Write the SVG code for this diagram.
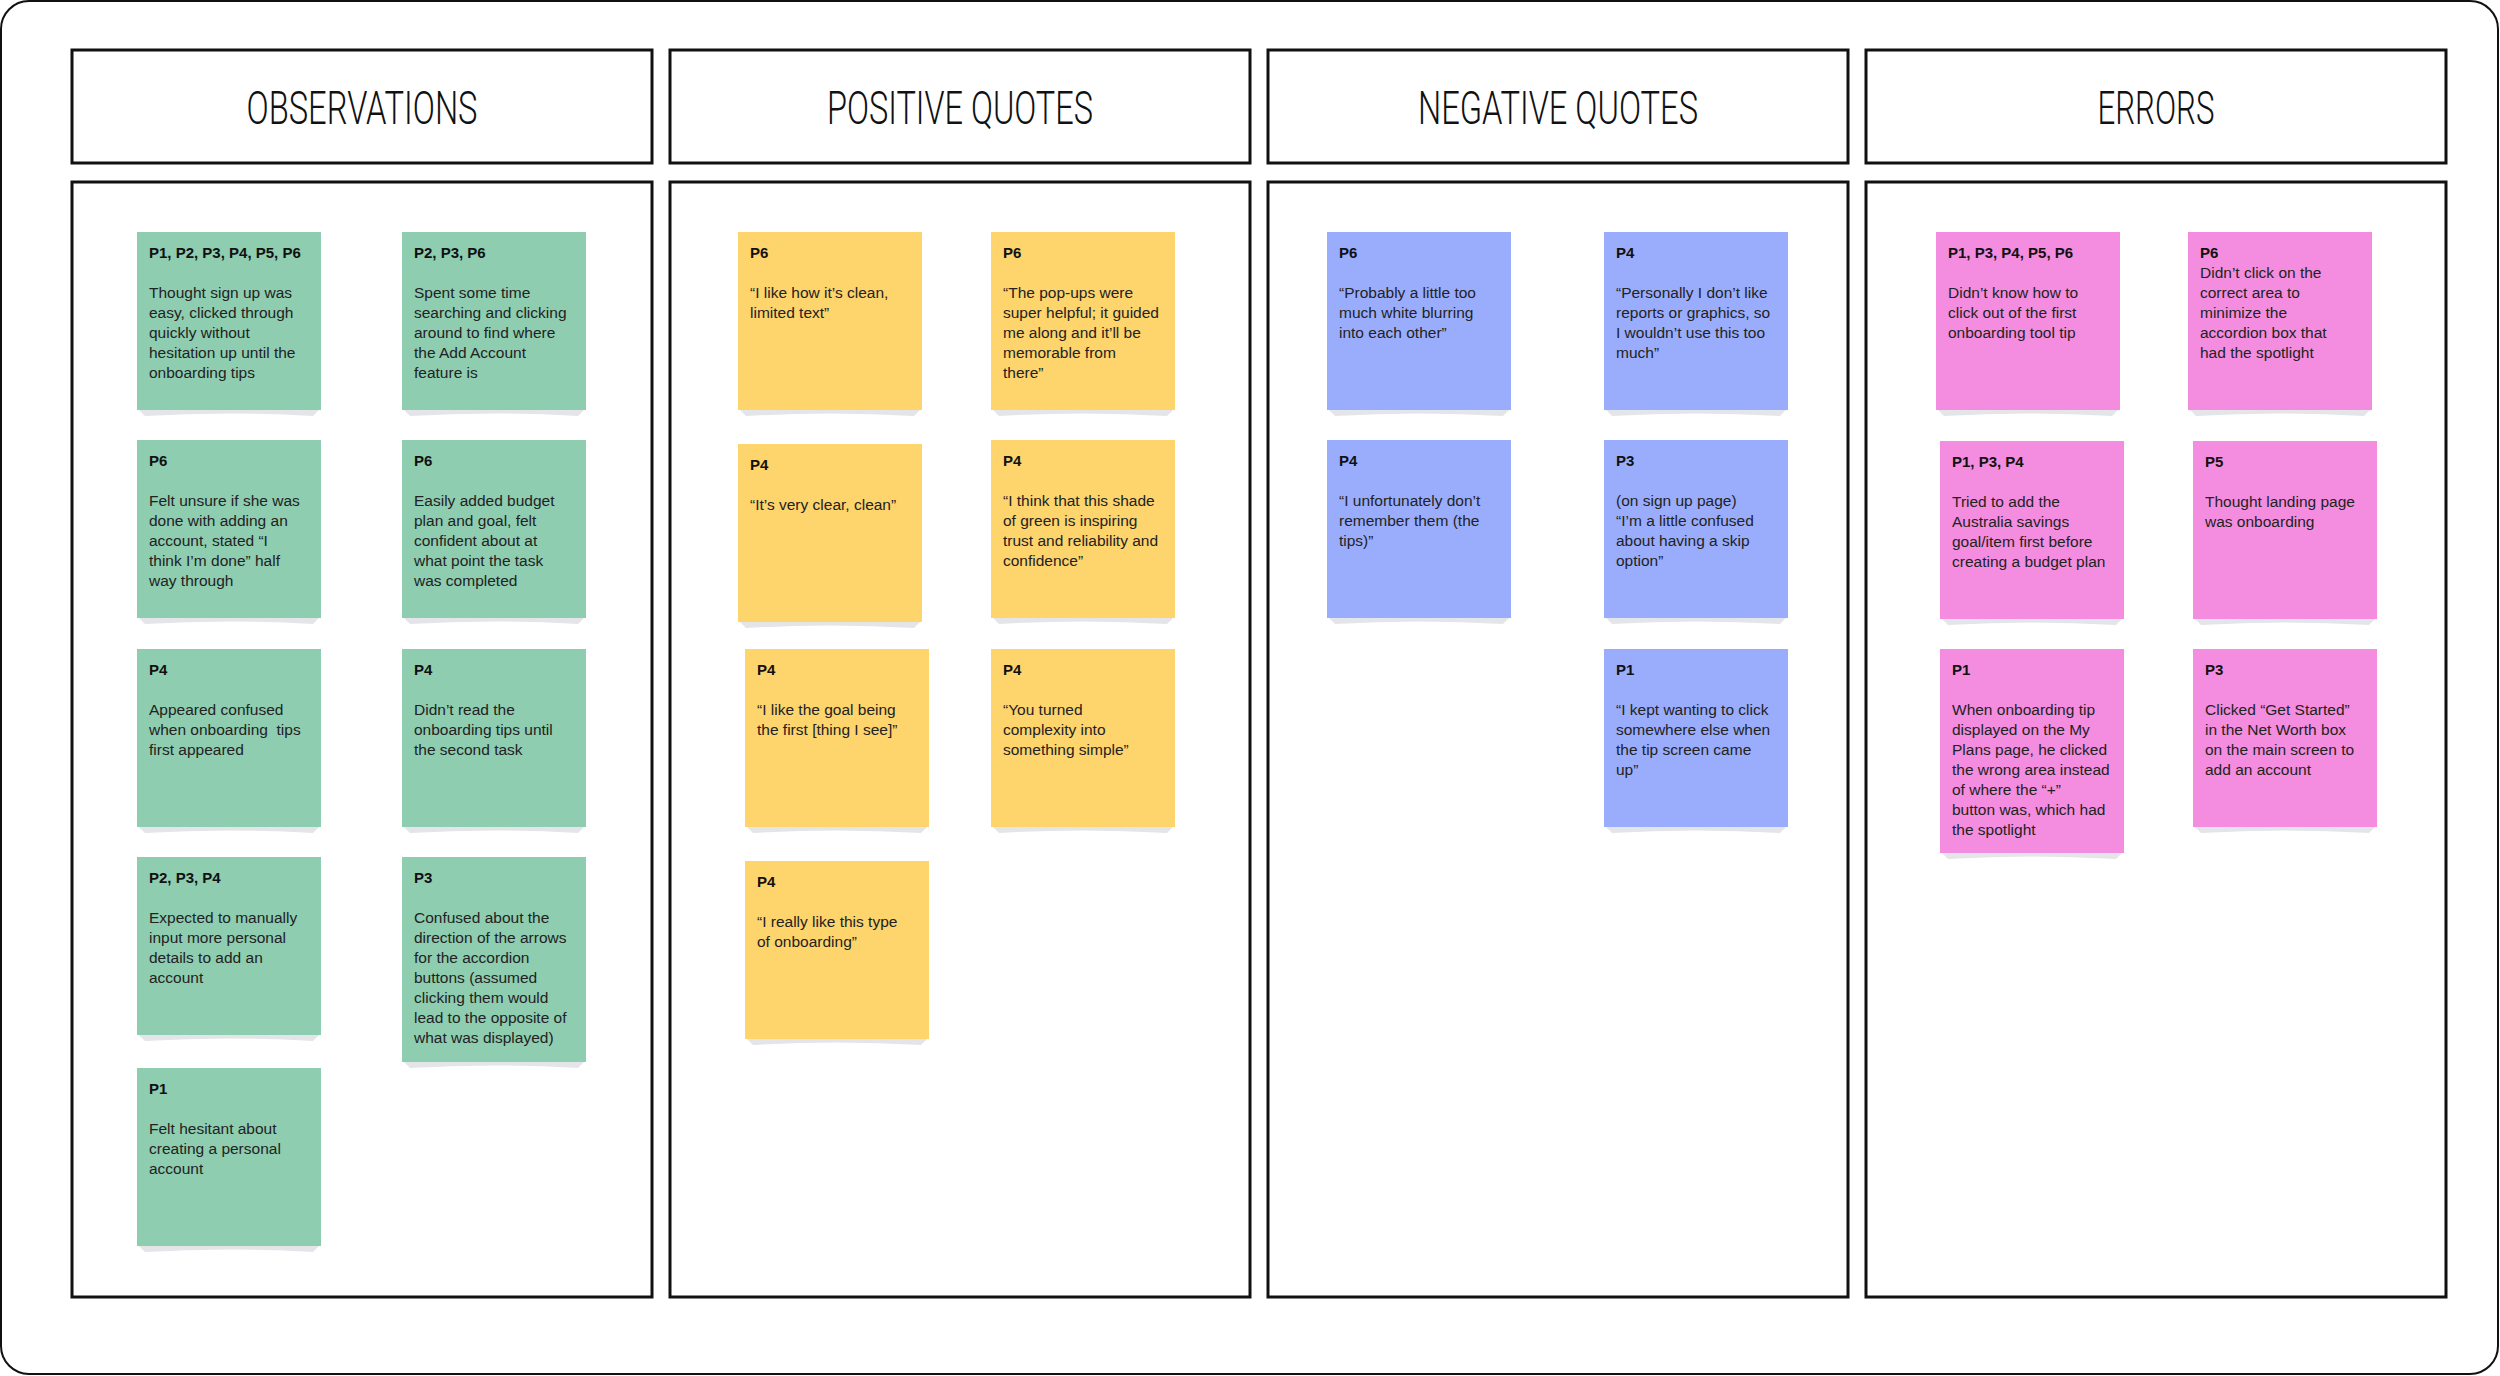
<svg xmlns="http://www.w3.org/2000/svg" width="2500" height="1376" viewBox="0 0 2500 1376">
<style>
.frame{fill:#fff;stroke:#111;stroke-width:2}
.box{fill:#fff;stroke:#111;stroke-width:3}
.hd{font-family:Roboto,"Liberation Sans",sans-serif;font-size:46px;font-weight:300;fill:#111;text-anchor:middle}
.g{fill:#8ecdb0}
.y{fill:#fed46c}
.b{fill:#9aadfd}
.p{fill:#f48ddf}
.sh{fill:#e4e5e8}
.t{font-family:"Liberation Sans",Arial,sans-serif;font-size:15px;font-weight:bold;fill:#111}
.x{font-family:"Liberation Sans",Arial,sans-serif;font-size:15.5px;fill:#222}
</style>
<rect class="frame" x="1" y="1" width="2497" height="1373" rx="28"/>
<g id="headers">
<g id="h-observations"><rect class="box" x="72" y="50" width="580" height="113"/><text class="hd" x="362" y="124" textLength="231" lengthAdjust="spacingAndGlyphs">OBSERVATIONS</text></g>
<g id="h-positive"><rect class="box" x="670" y="50" width="580" height="113"/><text class="hd" x="960" y="124" textLength="266" lengthAdjust="spacingAndGlyphs">POSITIVE QUOTES</text></g>
<g id="h-negative"><rect class="box" x="1268" y="50" width="580" height="113"/><text class="hd" x="1558" y="124" textLength="280" lengthAdjust="spacingAndGlyphs">NEGATIVE QUOTES</text></g>
<g id="h-errors"><rect class="box" x="1866" y="50" width="580" height="113"/><text class="hd" x="2156" y="124" textLength="117" lengthAdjust="spacingAndGlyphs">ERRORS</text></g>
</g>
<g id="columns">
<rect id="col-observations" class="box" x="72" y="182" width="580" height="1115"/>
<rect id="col-positive" class="box" x="670" y="182" width="580" height="1115"/>
<rect id="col-negative" class="box" x="1268" y="182" width="580" height="1115"/>
<rect id="col-errors" class="box" x="1866" y="182" width="580" height="1115"/>
</g>
<g id="connectors"></g>

<!-- Observations -->
<g id="obs-1"><path class="sh" d="M139,410 L319,410 L313,416 Q229,411 145,416 Z"/><rect class="g" x="137" y="232" width="184" height="178"/>
<text class="t" x="149" y="258">P1, P2, P3, P4, P5, P6</text>
<text class="x"><tspan x="149" y="298">Thought sign up was</tspan><tspan x="149" y="318">easy, clicked through</tspan><tspan x="149" y="338">quickly without</tspan><tspan x="149" y="358">hesitation up until the</tspan><tspan x="149" y="378">onboarding tips</tspan></text></g>
<g id="obs-2"><path class="sh" d="M404,410 L584,410 L578,416 Q494,411 410,416 Z"/><rect class="g" x="402" y="232" width="184" height="178"/>
<text class="t" x="414" y="258">P2, P3, P6</text>
<text class="x"><tspan x="414" y="298">Spent some time</tspan><tspan x="414" y="318">searching and clicking</tspan><tspan x="414" y="338">around to find where</tspan><tspan x="414" y="358">the Add Account</tspan><tspan x="414" y="378">feature is</tspan></text></g>
<g id="obs-3"><path class="sh" d="M139,618 L319,618 L313,624 Q229,619 145,624 Z"/><rect class="g" x="137" y="440" width="184" height="178"/>
<text class="t" x="149" y="466">P6</text>
<text class="x"><tspan x="149" y="506">Felt unsure if she was</tspan><tspan x="149" y="526">done with adding an</tspan><tspan x="149" y="546">account, stated “I</tspan><tspan x="149" y="566">think I’m done” half</tspan><tspan x="149" y="586">way through</tspan></text></g>
<g id="obs-4"><path class="sh" d="M404,618 L584,618 L578,624 Q494,619 410,624 Z"/><rect class="g" x="402" y="440" width="184" height="178"/>
<text class="t" x="414" y="466">P6</text>
<text class="x"><tspan x="414" y="506">Easily added budget</tspan><tspan x="414" y="526">plan and goal, felt</tspan><tspan x="414" y="546">confident about at</tspan><tspan x="414" y="566">what point the task</tspan><tspan x="414" y="586">was completed</tspan></text></g>
<g id="obs-5"><path class="sh" d="M139,827 L319,827 L313,833 Q229,828 145,833 Z"/><rect class="g" x="137" y="649" width="184" height="178"/>
<text class="t" x="149" y="675">P4</text>
<text class="x" xml:space="preserve"><tspan x="149" y="715">Appeared confused</tspan><tspan x="149" y="735">when onboarding  tips</tspan><tspan x="149" y="755">first appeared</tspan></text></g>
<g id="obs-6"><path class="sh" d="M404,827 L584,827 L578,833 Q494,828 410,833 Z"/><rect class="g" x="402" y="649" width="184" height="178"/>
<text class="t" x="414" y="675">P4</text>
<text class="x"><tspan x="414" y="715">Didn’t read the</tspan><tspan x="414" y="735">onboarding tips until</tspan><tspan x="414" y="755">the second task</tspan></text></g>
<g id="obs-7"><path class="sh" d="M139,1035 L319,1035 L313,1041 Q229,1036 145,1041 Z"/><rect class="g" x="137" y="857" width="184" height="178"/>
<text class="t" x="149" y="883">P2, P3, P4</text>
<text class="x"><tspan x="149" y="923">Expected to manually</tspan><tspan x="149" y="943">input more personal</tspan><tspan x="149" y="963">details to add an</tspan><tspan x="149" y="983">account</tspan></text></g>
<g id="obs-8"><path class="sh" d="M404,1062 L584,1062 L578,1068 Q494,1063 410,1068 Z"/><rect class="g" x="402" y="857" width="184" height="205"/>
<text class="t" x="414" y="883">P3</text>
<text class="x"><tspan x="414" y="923">Confused about the</tspan><tspan x="414" y="943">direction of the arrows</tspan><tspan x="414" y="963">for the accordion</tspan><tspan x="414" y="983">buttons (assumed</tspan><tspan x="414" y="1003">clicking them would</tspan><tspan x="414" y="1023">lead to the opposite of</tspan><tspan x="414" y="1043">what was displayed)</tspan></text></g>
<g id="obs-9"><path class="sh" d="M139,1246 L319,1246 L313,1252 Q229,1247 145,1252 Z"/><rect class="g" x="137" y="1068" width="184" height="178"/>
<text class="t" x="149" y="1094">P1</text>
<text class="x"><tspan x="149" y="1134">Felt hesitant about</tspan><tspan x="149" y="1154">creating a personal</tspan><tspan x="149" y="1174">account</tspan></text></g>

<!-- Positive quotes -->
<g id="pos-1"><path class="sh" d="M740,410 L920,410 L914,416 Q830,411 746,416 Z"/><rect class="y" x="738" y="232" width="184" height="178"/>
<text class="t" x="750" y="258">P6</text>
<text class="x"><tspan x="750" y="298">“I like how it’s clean,</tspan><tspan x="750" y="318">limited text”</tspan></text></g>
<g id="pos-2"><path class="sh" d="M993,410 L1173,410 L1167,416 Q1083,411 999,416 Z"/><rect class="y" x="991" y="232" width="184" height="178"/>
<text class="t" x="1003" y="258">P6</text>
<text class="x"><tspan x="1003" y="298">“The pop-ups were</tspan><tspan x="1003" y="318">super helpful; it guided</tspan><tspan x="1003" y="338">me along and it’ll be</tspan><tspan x="1003" y="358">memorable from</tspan><tspan x="1003" y="378">there”</tspan></text></g>
<g id="pos-3"><path class="sh" d="M740,622 L920,622 L914,628 Q830,623 746,628 Z"/><rect class="y" x="738" y="444" width="184" height="178"/>
<text class="t" x="750" y="470">P4</text>
<text class="x"><tspan x="750" y="510">“It’s very clear, clean”</tspan></text></g>
<g id="pos-4"><path class="sh" d="M993,618 L1173,618 L1167,624 Q1083,619 999,624 Z"/><rect class="y" x="991" y="440" width="184" height="178"/>
<text class="t" x="1003" y="466">P4</text>
<text class="x"><tspan x="1003" y="506">“I think that this shade</tspan><tspan x="1003" y="526">of green is inspiring</tspan><tspan x="1003" y="546">trust and reliability and</tspan><tspan x="1003" y="566">confidence”</tspan></text></g>
<g id="pos-5"><path class="sh" d="M747,827 L927,827 L921,833 Q837,828 753,833 Z"/><rect class="y" x="745" y="649" width="184" height="178"/>
<text class="t" x="757" y="675">P4</text>
<text class="x"><tspan x="757" y="715">“I like the goal being</tspan><tspan x="757" y="735">the first [thing I see]”</tspan></text></g>
<g id="pos-6"><path class="sh" d="M993,827 L1173,827 L1167,833 Q1083,828 999,833 Z"/><rect class="y" x="991" y="649" width="184" height="178"/>
<text class="t" x="1003" y="675">P4</text>
<text class="x"><tspan x="1003" y="715">“You turned</tspan><tspan x="1003" y="735">complexity into</tspan><tspan x="1003" y="755">something simple”</tspan></text></g>
<g id="pos-7"><path class="sh" d="M747,1039 L927,1039 L921,1045 Q837,1040 753,1045 Z"/><rect class="y" x="745" y="861" width="184" height="178"/>
<text class="t" x="757" y="887">P4</text>
<text class="x"><tspan x="757" y="927">“I really like this type</tspan><tspan x="757" y="947">of onboarding”</tspan></text></g>

<!-- Negative quotes -->
<g id="neg-1"><path class="sh" d="M1329,410 L1509,410 L1503,416 Q1419,411 1335,416 Z"/><rect class="b" x="1327" y="232" width="184" height="178"/>
<text class="t" x="1339" y="258">P6</text>
<text class="x"><tspan x="1339" y="298">“Probably a little too</tspan><tspan x="1339" y="318">much white blurring</tspan><tspan x="1339" y="338">into each other”</tspan></text></g>
<g id="neg-2"><path class="sh" d="M1606,410 L1786,410 L1780,416 Q1696,411 1612,416 Z"/><rect class="b" x="1604" y="232" width="184" height="178"/>
<text class="t" x="1616" y="258">P4</text>
<text class="x"><tspan x="1616" y="298">“Personally I don’t like</tspan><tspan x="1616" y="318">reports or graphics, so</tspan><tspan x="1616" y="338">I wouldn’t use this too</tspan><tspan x="1616" y="358">much”</tspan></text></g>
<g id="neg-3"><path class="sh" d="M1329,618 L1509,618 L1503,624 Q1419,619 1335,624 Z"/><rect class="b" x="1327" y="440" width="184" height="178"/>
<text class="t" x="1339" y="466">P4</text>
<text class="x"><tspan x="1339" y="506">“I unfortunately don’t</tspan><tspan x="1339" y="526">remember them (the</tspan><tspan x="1339" y="546">tips)”</tspan></text></g>
<g id="neg-4"><path class="sh" d="M1606,618 L1786,618 L1780,624 Q1696,619 1612,624 Z"/><rect class="b" x="1604" y="440" width="184" height="178"/>
<text class="t" x="1616" y="466">P3</text>
<text class="x"><tspan x="1616" y="506">(on sign up page)</tspan><tspan x="1616" y="526">“I’m a little confused</tspan><tspan x="1616" y="546">about having a skip</tspan><tspan x="1616" y="566">option”</tspan></text></g>
<g id="neg-5"><path class="sh" d="M1606,827 L1786,827 L1780,833 Q1696,828 1612,833 Z"/><rect class="b" x="1604" y="649" width="184" height="178"/>
<text class="t" x="1616" y="675">P1</text>
<text class="x"><tspan x="1616" y="715">“I kept wanting to click</tspan><tspan x="1616" y="735">somewhere else when</tspan><tspan x="1616" y="755">the tip screen came</tspan><tspan x="1616" y="775">up”</tspan></text></g>

<!-- Errors -->
<g id="err-1"><path class="sh" d="M1938,410 L2118,410 L2112,416 Q2028,411 1944,416 Z"/><rect class="p" x="1936" y="232" width="184" height="178"/>
<text class="t" x="1948" y="258">P1, P3, P4, P5, P6</text>
<text class="x"><tspan x="1948" y="298">Didn’t know how to</tspan><tspan x="1948" y="318">click out of the first</tspan><tspan x="1948" y="338">onboarding tool tip</tspan></text></g>
<g id="err-2"><path class="sh" d="M2190,410 L2370,410 L2364,416 Q2280,411 2196,416 Z"/><rect class="p" x="2188" y="232" width="184" height="178"/>
<text class="t" x="2200" y="258">P6</text>
<text class="x"><tspan x="2200" y="278">Didn’t click on the</tspan><tspan x="2200" y="298">correct area to</tspan><tspan x="2200" y="318">minimize the</tspan><tspan x="2200" y="338">accordion box that</tspan><tspan x="2200" y="358">had the spotlight</tspan></text></g>
<g id="err-3"><path class="sh" d="M1942,619 L2122,619 L2116,625 Q2032,620 1948,625 Z"/><rect class="p" x="1940" y="441" width="184" height="178"/>
<text class="t" x="1952" y="467">P1, P3, P4</text>
<text class="x"><tspan x="1952" y="507">Tried to add the</tspan><tspan x="1952" y="527">Australia savings</tspan><tspan x="1952" y="547">goal/item first before</tspan><tspan x="1952" y="567">creating a budget plan</tspan></text></g>
<g id="err-4"><path class="sh" d="M2195,619 L2375,619 L2369,625 Q2285,620 2201,625 Z"/><rect class="p" x="2193" y="441" width="184" height="178"/>
<text class="t" x="2205" y="467">P5</text>
<text class="x"><tspan x="2205" y="507">Thought landing page</tspan><tspan x="2205" y="527">was onboarding</tspan></text></g>
<g id="err-5"><path class="sh" d="M1942,853 L2122,853 L2116,859 Q2032,854 1948,859 Z"/><rect class="p" x="1940" y="649" width="184" height="204"/>
<text class="t" x="1952" y="675">P1</text>
<text class="x"><tspan x="1952" y="715">When onboarding tip</tspan><tspan x="1952" y="735">displayed on the My</tspan><tspan x="1952" y="755">Plans page, he clicked</tspan><tspan x="1952" y="775">the wrong area instead</tspan><tspan x="1952" y="795">of where the “+”</tspan><tspan x="1952" y="815">button was, which had</tspan><tspan x="1952" y="835">the spotlight</tspan></text></g>
<g id="err-6"><path class="sh" d="M2195,827 L2375,827 L2369,833 Q2285,828 2201,833 Z"/><rect class="p" x="2193" y="649" width="184" height="178"/>
<text class="t" x="2205" y="675">P3</text>
<text class="x"><tspan x="2205" y="715">Clicked “Get Started”</tspan><tspan x="2205" y="735">in the Net Worth box</tspan><tspan x="2205" y="755">on the main screen to</tspan><tspan x="2205" y="775">add an account</tspan></text></g>
</svg>
